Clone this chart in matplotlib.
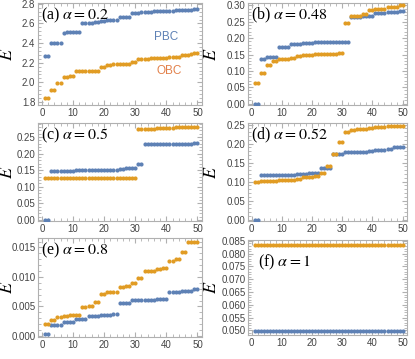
import matplotlib
matplotlib.use("Agg")
import matplotlib.pyplot as plt
from matplotlib.ticker import MultipleLocator, AutoMinorLocator
import numpy as np

plt.rcParams['mathtext.fontset'] = 'stix'
plt.rcParams['font.family'] = ['Liberation Sans', 'DejaVu Sans']

n = np.arange(1, 51)

# (a) alpha = 0.2
pbc_a = [2.27, 2.27, 2.40, 2.40, 2.40, 2.40, 2.50, 2.51, 2.51, 2.51,
         2.51, 2.51, 2.60, 2.60, 2.60, 2.60, 2.61, 2.61, 2.62, 2.62,
         2.64, 2.64, 2.64, 2.64, 2.67, 2.67, 2.67, 2.67, 2.71, 2.71,
         2.71, 2.72, 2.72, 2.72, 2.72, 2.73, 2.73, 2.73, 2.73, 2.73,
         2.73, 2.73, 2.74, 2.74, 2.74, 2.74, 2.74, 2.74, 2.75, 2.75]
obc_a = [1.84, 1.84, 1.92, 1.92, 1.99, 1.99, 2.05, 2.05, 2.06, 2.06,
         2.11, 2.11, 2.11, 2.11, 2.11, 2.11, 2.12, 2.12, 2.16, 2.16,
         2.18, 2.18, 2.19, 2.19, 2.19, 2.19, 2.19, 2.19, 2.21, 2.21,
         2.24, 2.24, 2.24, 2.24, 2.25, 2.25, 2.25, 2.25, 2.25, 2.25,
         2.26, 2.26, 2.26, 2.26, 2.28, 2.28, 2.28, 2.29, 2.30, 2.30]

# (b) alpha = 0.48
pbc_b = [0.000, 0.000, 0.137, 0.137, 0.143, 0.143, 0.143, 0.143, 0.172, 0.172,
         0.172, 0.172, 0.182, 0.182, 0.182, 0.182, 0.185, 0.185, 0.185, 0.185,
         0.187, 0.187, 0.187, 0.187, 0.187, 0.187, 0.187, 0.188, 0.188, 0.188,
         0.188, 0.188, 0.265, 0.265, 0.265, 0.265, 0.268, 0.268, 0.268, 0.268,
         0.277, 0.277, 0.277, 0.277, 0.280, 0.280, 0.280, 0.280, 0.283, 0.283]
obc_b = [0.063, 0.063, 0.093, 0.093, 0.117, 0.117, 0.130, 0.130, 0.135, 0.135,
         0.135, 0.135, 0.140, 0.140, 0.145, 0.145, 0.150, 0.150, 0.150, 0.150,
         0.152, 0.152, 0.152, 0.152, 0.153, 0.153, 0.153, 0.153, 0.155, 0.155,
         0.245, 0.245, 0.267, 0.267, 0.267, 0.267, 0.275, 0.275, 0.285, 0.285,
         0.290, 0.290, 0.290, 0.290, 0.295, 0.295, 0.295, 0.295, 0.300, 0.300]

# (c) alpha = 0.5
pbc_c = [0.000, 0.000, 0.148, 0.148, 0.148, 0.148, 0.148, 0.148, 0.148, 0.148,
         0.150, 0.150, 0.150, 0.150, 0.150, 0.150, 0.150, 0.150, 0.150, 0.150,
         0.150, 0.150, 0.150, 0.150, 0.152, 0.152, 0.157, 0.157, 0.157, 0.157,
         0.170, 0.170, 0.228, 0.228, 0.228, 0.228, 0.228, 0.228, 0.228, 0.228,
         0.228, 0.228, 0.228, 0.228, 0.230, 0.230, 0.230, 0.230, 0.232, 0.232]
obc_c = [0.125, 0.125, 0.125, 0.125, 0.125, 0.125, 0.125, 0.125, 0.125, 0.125,
         0.125, 0.125, 0.125, 0.125, 0.125, 0.125, 0.125, 0.125, 0.125, 0.125,
         0.125, 0.125, 0.125, 0.125, 0.125, 0.125, 0.125, 0.125, 0.125, 0.125,
         0.273, 0.273, 0.273, 0.273, 0.273, 0.273, 0.277, 0.277, 0.277, 0.277,
         0.277, 0.277, 0.281, 0.281, 0.281, 0.281, 0.281, 0.281, 0.281, 0.281]

# (d) alpha = 0.52
pbc_d = [0.000, 0.000, 0.118, 0.118, 0.118, 0.118, 0.118, 0.118, 0.118, 0.118,
         0.118, 0.118, 0.118, 0.118, 0.121, 0.121, 0.121, 0.121, 0.124, 0.124,
         0.124, 0.124, 0.135, 0.135, 0.135, 0.135, 0.173, 0.173, 0.173, 0.173,
         0.178, 0.178, 0.178, 0.178, 0.179, 0.179, 0.179, 0.179, 0.180, 0.180,
         0.183, 0.183, 0.183, 0.183, 0.185, 0.185, 0.190, 0.190, 0.190, 0.190]
obc_d = [0.100, 0.100, 0.101, 0.101, 0.102, 0.102, 0.102, 0.102, 0.103, 0.103,
         0.105, 0.105, 0.105, 0.105, 0.107, 0.107, 0.113, 0.113, 0.113, 0.113,
         0.115, 0.115, 0.123, 0.123, 0.140, 0.140, 0.172, 0.172, 0.205, 0.205,
         0.230, 0.230, 0.237, 0.237, 0.238, 0.238, 0.239, 0.239, 0.240, 0.240,
         0.245, 0.245, 0.245, 0.245, 0.246, 0.246, 0.246, 0.246, 0.247, 0.247]

# (e) alpha = 0.8
pbc_e = [0.0003, 0.0003, 0.0018, 0.0018, 0.0018, 0.0018, 0.0023, 0.0023, 0.0023, 0.0023,
         0.0028, 0.0028, 0.0028, 0.0028, 0.0034, 0.0034, 0.0034, 0.0034, 0.0036, 0.0036,
         0.0036, 0.0036, 0.0037, 0.0037, 0.0056, 0.0056, 0.0056, 0.0056, 0.0061, 0.0061,
         0.0061, 0.0061, 0.0061, 0.0061, 0.0061, 0.0061, 0.0062, 0.0062, 0.0062, 0.0062,
         0.0074, 0.0074, 0.0074, 0.0074, 0.0077, 0.0077, 0.0077, 0.0077, 0.0080, 0.0080]
obc_e = [0.0021, 0.0021, 0.0027, 0.0027, 0.0032, 0.0032, 0.0034, 0.0034, 0.0035, 0.0035,
         0.0036, 0.0036, 0.0049, 0.0049, 0.0051, 0.0051, 0.0058, 0.0058, 0.0071, 0.0071,
         0.0074, 0.0074, 0.0074, 0.0074, 0.0083, 0.0083, 0.0084, 0.0084, 0.0090, 0.0090,
         0.0099, 0.0099, 0.0110, 0.0110, 0.0110, 0.0110, 0.0113, 0.0113, 0.0116, 0.0116,
         0.0127, 0.0127, 0.0130, 0.0130, 0.0143, 0.0143, 0.0159, 0.0159, 0.0160, 0.0160]

# (f) alpha = 1
pbc_f = [0.0497] * 50
obc_f = [0.0833] * 50

panels = [
    ("(a) $\\alpha = 0.2$", pbc_a, obc_a, (1.77, 2.81), 0.2, "%.1f"),
    ("(b) $\\alpha = 0.48$", pbc_b, obc_b, (-0.004, 0.308), 0.05, "%.2f"),
    ("(c) $\\alpha = 0.5$", pbc_c, obc_c, (-0.004, 0.292), 0.05, "%.2f"),
    ("(d) $\\alpha = 0.52$", pbc_d, obc_d, (-0.004, 0.254), 0.05, "%.2f"),
    ("(e) $\\alpha = 0.8$", pbc_e, obc_e, (-0.0002, 0.0166), 0.005, "%.3f"),
    ("(f) $\\alpha = 1$", pbc_f, obc_f, (0.0482, 0.0853), 0.005, "%.3f"),
]

blue = '#5e81b5'
orange = '#e19c24'
frame = '#b0b0b0'
tickc = '#444444'

boxes = [
    [0.092, 0.708, 0.395, 0.284],
    [0.598, 0.708, 0.383, 0.284],
    [0.092, 0.384, 0.395, 0.273],
    [0.598, 0.384, 0.383, 0.273],
    [0.092, 0.061, 0.395, 0.276],
    [0.598, 0.067, 0.383, 0.264],
]

fig = plt.figure(figsize=(4.15, 3.59), dpi=100)
for i, (label, pbc, obc, ylim, step, fmt) in enumerate(panels):
    ax = fig.add_axes(boxes[i])
    ax.scatter(n, pbc, s=9, color=blue, linewidths=0, zorder=3)
    ax.scatter(n, obc, s=9, color=orange, linewidths=0, zorder=3)
    ax.set_xlim(-1.2, 51.5)
    ax.set_ylim(*ylim)
    ax.xaxis.set_major_locator(MultipleLocator(10))
    ax.yaxis.set_major_locator(MultipleLocator(step))
    ax.xaxis.set_minor_locator(AutoMinorLocator(5))
    ax.yaxis.set_minor_locator(AutoMinorLocator(5))
    ax.yaxis.set_major_formatter(plt.FormatStrFormatter(fmt))
    for sp in ax.spines.values():
        sp.set_color(frame)
        sp.set_linewidth(0.8)
    ax.tick_params(which='both', direction='in', top=True, right=True,
                   color=frame, labelcolor=tickc, labelsize=7, pad=2)
    ax.tick_params(which='major', length=3.5)
    ax.tick_params(which='minor', length=2)
    ax.set_ylabel("$E$", fontsize=13)
    # fixed label position so all panels line up
    ax.yaxis.set_label_coords(-0.134 if i % 2 == 0 else -0.176, 0.5)
    if i == 5:
        ax.text(0.06, 0.72, label, transform=ax.transAxes, fontsize=11.5,
                family='Liberation Serif')
    else:
        ax.text(0.02, 0.97, label, transform=ax.transAxes, fontsize=11.5,
                family='Liberation Serif', va='top')
    if i == 0:
        ax.text(40, 2.46, "PBC", color=blue, fontsize=8.5, ha='center', va='center')
        ax.text(41, 2.11, "OBC", color='#e2804a', fontsize=8.5, ha='center', va='center')

fig.savefig("out.png", dpi=100)
